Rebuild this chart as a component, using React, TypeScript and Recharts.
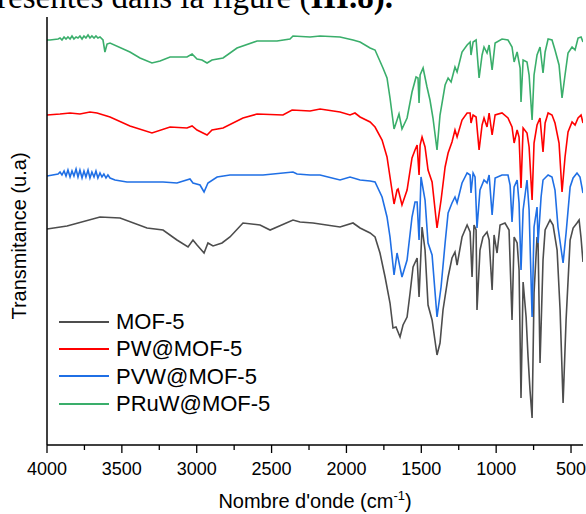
import React from 'react';
import { LineChart, Line, XAxis, YAxis } from 'recharts';

// [wavenumber (cm-1), transmittance (offset, a.u.)]
const mof5: [number, number][] = [
  [4000, 54], [3866, 54.75], [3646, 57], [3512, 56.75], [3332, 54.25], [3225, 53.75], [3132, 51.25],
  [3058, 49.5], [3025, 51.25], [2998, 50], [2951, 48], [2925, 50.5], [2891, 49.75], [2831, 50.5],
  [2778, 52], [2691, 55.5], [2577, 55], [2510, 53.75], [2357, 56.25], [2310, 55.75], [2223, 55.5],
  [2043, 54.5], [1956, 55.5], [1909, 54.25], [1842, 53], [1809, 52], [1776, 48], [1742, 42],
  [1709, 35.5], [1689, 29.25], [1669, 29.5], [1642, 27], [1622, 30], [1595, 32], [1575, 38],
  [1555, 44.5], [1528, 46.75], [1515, 37], [1495, 54.5], [1475, 48.75], [1455, 35], [1428, 31.25],
  [1395, 22.5], [1375, 25.5], [1355, 33.75], [1321, 42], [1295, 46.75], [1275, 48.25], [1261, 45],
  [1228, 52], [1194, 55], [1174, 53.25], [1161, 42], [1148, 55], [1134, 53.75], [1128, 33.75],
  [1108, 48.75], [1088, 52], [1061, 53.25], [1047, 51.25], [1027, 38.75], [1014, 52.5], [994, 48],
  [974, 55], [941, 55.5], [914, 53.75], [894, 31.25], [880, 52], [860, 50.5], [847, 43.75],
  [834, 11.75], [820, 40.75], [800, 32], [787, 22], [774, 13.75], [760, 6.75], [747, 38], [727, 52],
  [720, 50.5], [707, 20.5], [687, 46.25], [673, 53.75], [640, 56.25], [620, 55], [593, 48.75],
  [573, 33.75], [553, 10.5], [533, 31.25], [506, 51.25], [486, 54.25], [460, 55.5], [446, 56.25],
  [433, 51.75], [420, 45.75],
];

const pwMof5: [number, number][] = [
  [4000, 82.5], [3913, 82.75], [3846, 83], [3780, 82.75], [3713, 83.25], [3666, 83], [3579, 82],
  [3446, 79.75], [3299, 78], [3178, 79.5], [3065, 79.25], [3031, 79.75], [2998, 78.75], [2931, 77.5],
  [2898, 78.75], [2824, 79.25], [2691, 81.75], [2597, 82.75], [2424, 82.5], [2363, 83.75],
  [2243, 83.5], [2176, 84], [2043, 83.25], [1976, 82.5], [1943, 83], [1909, 82], [1842, 80.75],
  [1809, 79.5], [1762, 76.25], [1729, 72], [1709, 67], [1682, 60.25], [1662, 63.75], [1655, 64],
  [1629, 60], [1595, 63.75], [1562, 71.75], [1542, 73.75], [1528, 75], [1515, 67.5], [1508, 75],
  [1495, 77], [1475, 74.5], [1455, 68.75], [1428, 65.75], [1395, 54.25], [1368, 61.25], [1341, 69.5],
  [1321, 73], [1295, 75.75], [1275, 78.75], [1261, 77], [1228, 81.25], [1194, 83], [1174, 83],
  [1168, 80.5], [1154, 82.5], [1134, 82], [1114, 73.75], [1094, 80], [1081, 81.75], [1061, 79.5],
  [1047, 83], [1027, 77.5], [1007, 82.5], [961, 83], [921, 81.75], [894, 79.5], [880, 75.5],
  [860, 78.75], [847, 77], [834, 64.25], [820, 79.25], [794, 78], [780, 74.5], [760, 61.25],
  [747, 75.5], [727, 80], [707, 81.75], [687, 73.25], [673, 80.5], [653, 83], [627, 82.5],
  [607, 80.5], [580, 75.5], [560, 63.25], [540, 72], [520, 78.25], [493, 80.75], [473, 80],
  [453, 81.75], [433, 82.5], [420, 80.5],
];

const pvwMof5: [number, number][] = [
  [4000, 67.25], [3926, 67.75], [3913, 68.25], [3900, 67.5], [3886, 68.5], [3873, 67.25],
  [3860, 68.75], [3846, 67], [3833, 68.5], [3820, 67.25], [3806, 69], [3793, 67], [3780, 68.75],
  [3766, 66.75], [3753, 68.5], [3740, 67], [3726, 68.75], [3713, 66.75], [3700, 68.25], [3686, 67],
  [3673, 68.5], [3660, 66.75], [3646, 68], [3633, 67], [3620, 67.75], [3606, 66.75], [3593, 67.5],
  [3579, 66.75], [3546, 66.25], [3466, 65.75], [3225, 65.75], [3132, 65.5], [3045, 66.5], [3025, 65.5],
  [2978, 65], [2951, 63.25], [2925, 65.5], [2864, 67], [2778, 67.5], [2557, 67.5], [2357, 68.25],
  [2330, 67.75], [2243, 67.5], [2176, 67.5], [2043, 66.25], [1976, 67], [1909, 66.25], [1842, 66],
  [1809, 65.75], [1762, 62], [1729, 57], [1709, 52], [1682, 42.5], [1662, 48], [1629, 42],
  [1595, 46.25], [1562, 57], [1542, 60.75], [1528, 60.75], [1515, 51.25], [1502, 67], [1475, 61.25],
  [1455, 50.5], [1428, 47.5], [1395, 32], [1368, 39.5], [1341, 50.5], [1321, 58], [1295, 60.5],
  [1275, 62], [1261, 60.5], [1228, 65.5], [1194, 68], [1174, 67.5], [1168, 63], [1154, 68],
  [1141, 67], [1128, 54.25], [1108, 63.75], [1081, 66.25], [1061, 65.5], [1047, 67.5], [1027, 57.5],
  [1007, 66.75], [961, 67.5], [921, 67.5], [907, 65], [894, 55.75], [880, 64.5], [860, 66.25],
  [847, 60.5], [834, 43.75], [820, 58.75], [794, 66.25], [780, 58.75], [760, 32], [747, 54.5],
  [727, 59.5], [720, 50.5], [700, 62], [687, 66.25], [653, 67.5], [627, 67], [607, 63.75], [587, 54.5],
  [553, 45.5], [533, 53], [506, 64.5], [486, 66.75], [460, 68], [440, 67], [420, 63],
];

const pruwMof5: [number, number][] = [
  [4000, 101.25], [3980, 101.25], [3926, 101.5], [3913, 101.75], [3900, 101.25], [3886, 102],
  [3873, 101.5], [3860, 102], [3846, 101.5], [3833, 102.25], [3820, 101.5], [3806, 102],
  [3793, 101.75], [3780, 102.25], [3766, 101.5], [3753, 102.25], [3740, 101.75], [3726, 102.5],
  [3713, 101.75], [3700, 102.25], [3686, 101.75], [3673, 102.25], [3660, 101.75], [3646, 102],
  [3626, 101.25], [3613, 98.25], [3599, 100.25], [3579, 100.5], [3446, 98.25], [3379, 96.75],
  [3299, 95.5], [3245, 96], [3178, 97], [3065, 97], [3031, 97.75], [2998, 96.5], [2965, 96.25],
  [2931, 95.5], [2898, 96.25], [2824, 96.75], [2731, 99.25], [2597, 101], [2464, 101], [2377, 101.5],
  [2357, 102.25], [2243, 102], [2176, 102.25], [2043, 102], [1956, 101.25], [1909, 100.75],
  [1842, 99.25], [1809, 98.75], [1756, 94.25], [1729, 91.75], [1709, 86.75], [1682, 79], [1662, 81.25],
  [1649, 82.75], [1629, 79], [1595, 81.75], [1562, 88.25], [1535, 92], [1522, 91.75], [1515, 85.5],
  [1508, 92.5], [1488, 94.25], [1462, 89.5], [1442, 86.25], [1422, 81.75], [1395, 73.75], [1375, 82.5],
  [1341, 90], [1321, 91.75], [1301, 90.75], [1275, 94.5], [1261, 93.25], [1228, 98.25], [1194, 100],
  [1174, 100.75], [1168, 97.5], [1154, 100.75], [1134, 101.25], [1114, 91.75], [1094, 97.5],
  [1081, 99.5], [1061, 98], [1047, 100], [1027, 93.75], [1007, 100.5], [961, 101.5], [921, 101.25],
  [894, 99.5], [880, 95.75], [860, 98.25], [840, 94.25], [834, 85.75], [820, 96.25], [794, 95.75],
  [780, 92.5], [760, 81.25], [747, 92.5], [727, 97.5], [707, 99.5], [687, 93], [673, 98.25],
  [653, 101.5], [627, 101.25], [607, 98.75], [580, 95], [560, 86.75], [540, 92.5], [520, 98],
  [493, 99.5], [473, 98.75], [453, 101.75], [433, 102], [420, 100.75],
];

const seriesNames = ['MOF-5', 'PW@MOF-5', 'PVW@MOF-5', 'PRuW@MOF-5'];
const seriesColors = ['#4d4d4d', '#ff0000', '#1f6fe5', '#3aae6b'];
const seriesPoints = [mof5, pwMof5, pvwMof5, pruwMof5];

const xTicks = [4000, 3750, 3500, 3250, 3000, 2750, 2500, 2250, 2000, 1750, 1500, 1250, 1000, 750, 500];

const FONT = '"Liberation Sans", Arial, sans-serif';

const XTick = (props: any) => {
  const { x, y, payload } = props;
  const major = payload.value % 500 === 0;
  return (
    <g>
      <line x1={x} x2={x} y1={y} y2={y + (major ? 8 : 5)} stroke="#000" strokeWidth={1.3} />
      {major && (
        <text x={x} y={y + 30} textAnchor="middle" fontSize={18} fontFamily={FONT} fill="#000">
          {payload.value}
        </text>
      )}
    </g>
  );
};

const App = () => {
  const data = seriesPoints.map(pts => pts.map(([wn, t]) => ({ wn, t })));

  return (
    <div style={{ position: 'relative', width: 586, height: 514, background: '#fff', overflow: 'hidden' }}>
      <style>{`body{margin:0}`}</style>
      <svg width={586} height={20} style={{ position: 'absolute', left: 0, top: 0 }}>
        <text x={-3} y={8} fontSize={33} fontFamily='"Liberation Serif", "Times New Roman", serif' fill="#000">
          résentés dans la figure (<tspan fontWeight="bold">III.8).</tspan>
        </text>
      </svg>
      <LineChart width={586} height={514} margin={{ top: 17, right: 3, bottom: 0, left: 0 }}>
        <XAxis
          xAxisId="bottom"
          dataKey="wn"
          type="number"
          domain={[420, 4000]}
          reversed
          allowDataOverflow
          ticks={xTicks}
          interval={0}
          tickSize={0}
          tickMargin={0}
          tickLine={false}
          tick={<XTick />}
          height={69}
          axisLine={{ stroke: '#000', strokeWidth: 1.5 }}
          label={{
            content: () => (
              <text x={315} y={508} textAnchor="middle" fontSize={20} fontFamily={FONT} fill="#000">
                Nombre d'onde (cm
                <tspan fontSize={13} dy={-8}>-1</tspan>
                <tspan dy={8}>)</tspan>
              </text>
            ),
          }}
        />
        <XAxis
          xAxisId="top"
          orientation="top"
          dataKey="wn"
          type="number"
          domain={[420, 4000]}
          reversed
          allowDataOverflow
          tick={false}
          tickLine={false}
          height={0}
          axisLine={{ stroke: '#000', strokeWidth: 1.5 }}
        />
        <YAxis
          yAxisId="left"
          type="number"
          domain={[0, 107]}
          allowDataOverflow
          tick={false}
          tickLine={false}
          width={47}
          axisLine={{ stroke: '#000', strokeWidth: 1.5 }}
          label={{
            content: () => (
              <text
                x={26}
                y={236}
                transform="rotate(-90 26 236)"
                textAnchor="middle"
                fontSize={20}
                fontFamily={FONT}
                fill="#000"
              >
                Transmitance (u.a)
              </text>
            ),
          }}
        />
        <YAxis
          yAxisId="right"
          orientation="right"
          type="number"
          domain={[0, 107]}
          tick={false}
          tickLine={false}
          width={0}
          axisLine={{ stroke: '#000', strokeWidth: 1.5 }}
        />
        {data.map((d, i) => (
          <Line
            key={seriesNames[i]}
            xAxisId="bottom"
            yAxisId="left"
            data={d}
            dataKey="t"
            name={seriesNames[i]}
            type="linear"
            stroke={seriesColors[i]}
            strokeWidth={1.6}
            dot={false}
            isAnimationActive={false}
          />
        ))}
      </LineChart>
      <div style={{ position: 'absolute', left: 59, top: 308, fontFamily: FONT, fontSize: 22, color: '#000' }}>
        {seriesNames.map((name, i) => (
          <div key={name} style={{ display: 'flex', alignItems: 'center', height: 27.3 }}>
            <div style={{ width: 50, height: 2, background: seriesColors[i], marginRight: 7 }} />
            <span style={{ lineHeight: '27px' }}>{name}</span>
          </div>
        ))}
      </div>
    </div>
  );
};

export default App;
